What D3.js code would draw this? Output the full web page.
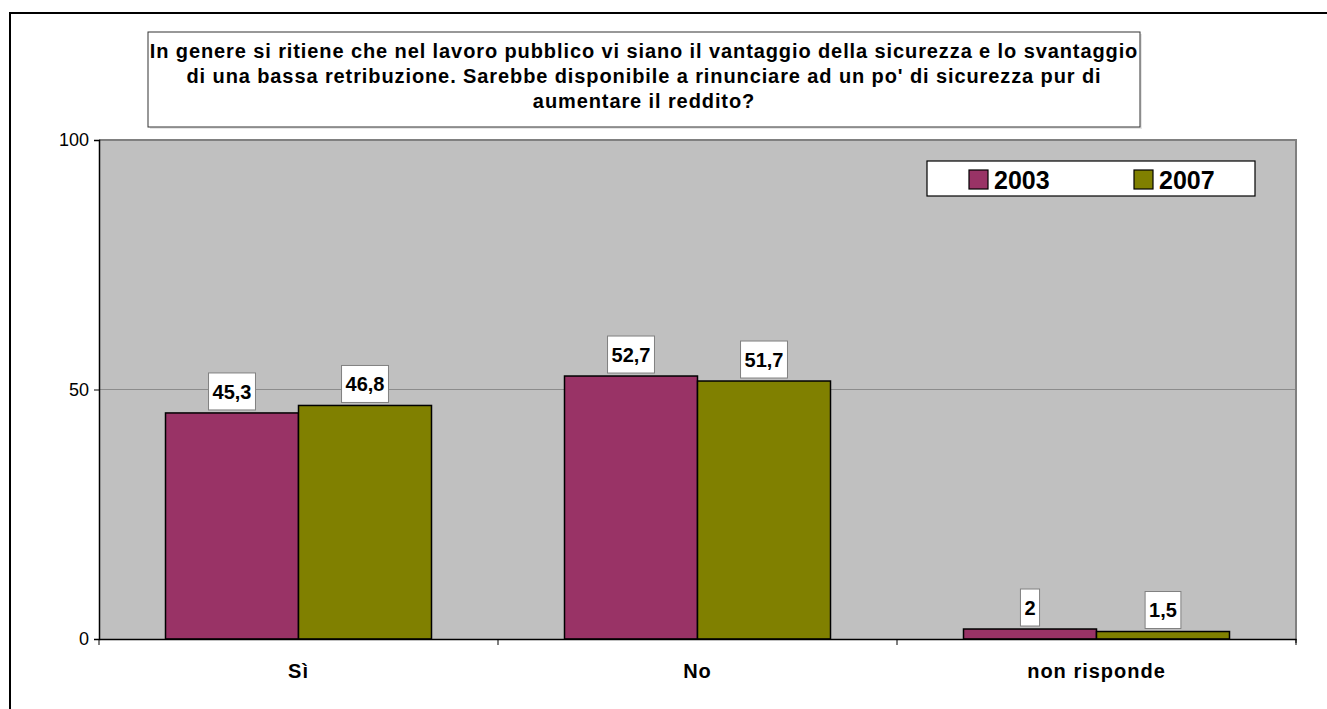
<!DOCTYPE html>
<html>
<head>
<meta charset="utf-8">
<script src="https://cdn.jsdelivr.net/npm/d3@7"></script>
<style>
  html, body { margin: 0; padding: 0; background: #fff; }
  svg { display: block; font-family: Arial, "Liberation Sans", sans-serif; }
</style>
</head>
<body>
<svg id="chart" width="1327" height="709"></svg>
<script>
// Survey answers, percentage by year
const categories = ["Sì", "No", "non risponde"];
const seriesNames = ["2003", "2007"];
const values2003 = [45.3, 52.7, 2];
const values2007 = [46.8, 51.7, 1.5];
const yTicks = [0, 50, 100];
const titleLines = [
  "In genere si ritiene che nel lavoro pubblico vi siano il vantaggio della sicurezza e lo svantaggio",
  "di una bassa retribuzione. Sarebbe disponibile a rinunciare ad un po' di sicurezza pur di",
  "aumentare il reddito?"
];
const colors = { "2003": "#993366", "2007": "#808000" };

const FONT = "Arial, 'Liberation Sans', sans-serif";
const svg = d3.select("#chart");

// Outer chart frame
svg.append("rect")
  .attr("x", 10).attr("y", 13).attr("width", 1330).attr("height", 720)
  .attr("fill", "#fff").attr("stroke", "#000").attr("stroke-width", 2);

const plot = { left: 99, top: 140, right: 1296, bottom: 639 };

const x0 = d3.scaleBand().domain(categories)
  .range([plot.left, plot.right]).paddingInner(0).paddingOuter(0);
const x1 = d3.scaleBand().domain(seriesNames)
  .range([0, x0.bandwidth()]).paddingInner(0).paddingOuter(0.5);
const y = d3.scaleLinear().domain([0, 100]).range([plot.bottom, plot.top]);

// Plot area background
svg.append("rect")
  .attr("x", plot.left).attr("y", plot.top)
  .attr("width", plot.right - plot.left).attr("height", plot.bottom - plot.top)
  .attr("fill", "#c0c0c0");

// Horizontal gridlines
svg.append("g").selectAll("line")
  .data(yTicks.filter(t => t > 0 && t < 100))
  .join("line")
  .attr("x1", plot.left).attr("x2", plot.right)
  .attr("y1", d => y(d)).attr("y2", d => y(d))
  .attr("stroke", "#8c8c8c").attr("stroke-width", 1);

// Top and right border of plot area
svg.append("path")
  .attr("d", `M${plot.left},${plot.top}H${plot.right}V${plot.bottom + 4}`)
  .attr("fill", "none").attr("stroke", "#808080").attr("stroke-width", 2);

// Bars
const rows = categories.map((c, i) => ({
  cat: c,
  items: [
    { series: "2003", value: values2003[i] },
    { series: "2007", value: values2007[i] }
  ]
}));

const groups = svg.append("g").selectAll("g")
  .data(rows).join("g")
  .attr("transform", d => `translate(${x0(d.cat)},0)`);

groups.selectAll("rect")
  .data(d => d.items).join("rect")
  .attr("x", d => x1(d.series))
  .attr("y", d => y(d.value))
  .attr("width", x1.bandwidth())
  .attr("height", d => y(0) - y(d.value))
  .attr("fill", d => colors[d.series])
  .attr("stroke", "#000").attr("stroke-width", 1.5);

// Value labels in white boxes
const fmt = v => String(v).replace(".", ",");
groups.each(function(d) {
  const g = d3.select(this);
  d.items.forEach(it => {
    const cx = x1(it.series) + x1.bandwidth() / 2;
    const t = g.append("text")
      .attr("x", cx)
      .attr("text-anchor", "middle")
      .attr("font-size", 20).attr("font-weight", "bold")
      .attr("fill", "#000")
      .text(fmt(it.value));
    const w = t.node().getComputedTextLength() + 8;
    const h = 37;
    const bottom = y(it.value) - 3;
    g.insert("rect", "text")
      .attr("x", cx - w / 2).attr("y", bottom - h)
      .attr("width", w).attr("height", h)
      .attr("fill", "#fff").attr("stroke", "#808080").attr("stroke-width", 1);
    t.attr("y", bottom - h / 2).attr("dy", "0.36em");
  });
});

// Y axis
const yAxis = svg.append("g")
  .attr("transform", `translate(${plot.left},0)`)
  .call(d3.axisLeft(y).tickValues(yTicks).tickSize(5).tickPadding(5));
yAxis.select(".domain").attr("stroke", "#000").attr("stroke-width", 1.5);
yAxis.selectAll(".tick line").attr("stroke", "#000");
yAxis.selectAll(".tick text")
  .attr("font-size", 18).attr("fill", "#000").attr("font-family", FONT);

// X axis
const xAxis = svg.append("g")
  .attr("transform", `translate(0,${plot.bottom})`)
  .call(d3.axisBottom(x0).tickSize(0).tickPadding(0));
xAxis.select(".domain").attr("stroke", "#000").attr("stroke-width", 1.5);
xAxis.selectAll(".tick text")
  .attr("y", 39).attr("dy", null)
  .attr("font-size", 20).attr("font-weight", "bold").attr("fill", "#000")
  .attr("letter-spacing", 1).attr("font-family", FONT);
// Category separators below the axis
svg.append("g").selectAll("line")
  .data(categories.map(c => x0(c)).concat([plot.right]))
  .join("line")
  .attr("x1", d => d).attr("x2", d => d)
  .attr("y1", plot.bottom).attr("y2", plot.bottom + 6)
  .attr("stroke", "#000").attr("stroke-width", 1);

// Title box
const title = { x: 148, y: 32, w: 992, h: 95 };
svg.append("rect")
  .attr("x", title.x + 2).attr("y", title.y + 2)
  .attr("width", title.w).attr("height", title.h)
  .attr("fill", "#e6e6e6");
svg.append("rect")
  .attr("x", title.x).attr("y", title.y)
  .attr("width", title.w).attr("height", title.h)
  .attr("fill", "#fff").attr("stroke", "#333").attr("stroke-width", 1);
svg.append("g").selectAll("text")
  .data(titleLines).join("text")
  .attr("x", title.x + title.w / 2)
  .attr("y", (d, i) => 57.5 + i * 25)
  .attr("text-anchor", "middle")
  .attr("font-size", 20).attr("font-weight", "bold").attr("fill", "#000")
  .attr("letter-spacing", 0.9)
  .text(d => d);

// Legend
const legend = { x: 927, y: 161, w: 328, h: 35 };
svg.append("rect")
  .attr("x", legend.x).attr("y", legend.y)
  .attr("width", legend.w).attr("height", legend.h)
  .attr("fill", "#fff").attr("stroke", "#000").attr("stroke-width", 1.2);
const legItems = svg.append("g").selectAll("g")
  .data(seriesNames).join("g")
  .attr("transform", (d, i) => `translate(${969 + i * 165},${legend.y + legend.h / 2 + 1})`);
legItems.append("rect")
  .attr("x", 0).attr("y", -9.5).attr("width", 19).attr("height", 19)
  .attr("fill", d => colors[d]).attr("stroke", "#000").attr("stroke-width", 1.2);
legItems.append("text")
  .attr("x", 25).attr("dy", "0.36em")
  .attr("font-size", 25).attr("font-weight", "bold").attr("fill", "#000")
  .text(d => d);
</script>
</body>
</html>
